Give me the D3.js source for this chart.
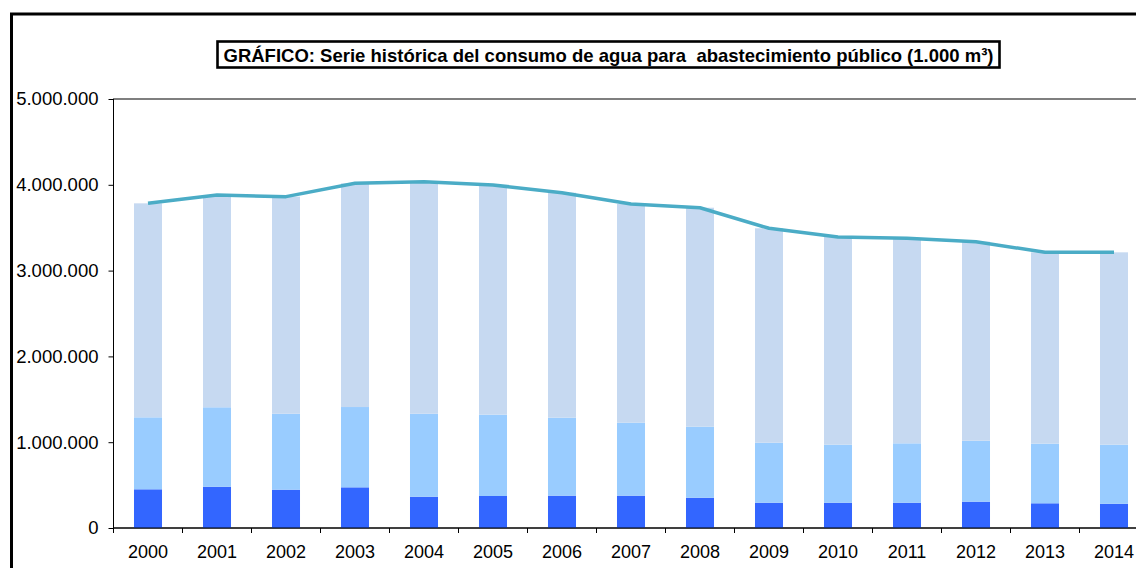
<!DOCTYPE html>
<html>
<head>
<meta charset="utf-8">
<script src="https://cdn.jsdelivr.net/npm/d3@7"></script>
<style>
  html, body { margin: 0; padding: 0; background: #fff; }
  svg { display: block; }
  text { font-family: "Liberation Sans", Arial, sans-serif; }
</style>
</head>
<body>
<svg id="chart" width="1136" height="568"></svg>
<script>
// ---- Data (1.000 m3) ----
const years = ["2000","2001","2002","2003","2004","2005","2006","2007","2008","2009","2010","2011","2012","2013","2014"];
const seriesDark  = [451000, 481000, 447000, 474000, 365000, 373000, 377000, 377000, 353000, 295000, 295000, 295000, 307000, 288000, 283000];
const seriesMid   = [839000, 926000, 885000, 936000, 967000, 948000, 909000, 850000, 828000, 699000, 676000, 692000, 710000, 695000, 688000];
const seriesLight = [2494000, 2474000, 2530000, 2607000, 2704000, 2677000, 2622000, 2549000, 2552000, 2499000, 2421000, 2389000, 2320000, 2230000, 2242000];
const totalLine   = [3784000, 3881000, 3862000, 4017000, 4036000, 3998000, 3908000, 3776000, 3733000, 3493000, 3392000, 3376000, 3337000, 3213000, 3213000];
const yTicks = [0, 1000000, 2000000, 3000000, 4000000, 5000000];
const titleText = "GRÁFICO: Serie histórica del consumo de agua para  abastecimiento público (1.000 m³)";

const svg = d3.select("#chart");

// outer frame
svg.append("rect")
  .attr("x", 11.5).attr("y", 14)
  .attr("width", 1200).attr("height", 700)
  .attr("fill", "none").attr("stroke", "#000").attr("stroke-width", 3);

// plot area
const plot = { left: 113.5, top: 99, bottom: 528, right: 1148.5 };

const x = d3.scaleBand().domain(years)
  .range([plot.left, plot.right])
  .paddingInner(0.594).paddingOuter(0.297);

const y = d3.scaleLinear().domain([0, 5000000]).range([plot.bottom, plot.top]);

const locale = d3.formatLocale({ decimal: ",", thousands: ".", grouping: [3], currency: ["", "€"] });
const fmt = locale.format(",d");

// plot border
svg.append("rect")
  .attr("x", plot.left).attr("y", plot.top)
  .attr("width", plot.right - plot.left).attr("height", plot.bottom - plot.top)
  .attr("fill", "none").attr("stroke", "#000").attr("stroke-width", 1);

// stacked bars
const stackData = years.map((yr, i) => ({ year: yr, dark: seriesDark[i], mid: seriesMid[i], light: seriesLight[i] }));
const stack = d3.stack().keys(["dark", "mid", "light"]);
const layers = stack(stackData);
const colors = { dark: "#3366FF", mid: "#99CCFF", light: "#C6D9F1" };

svg.append("g").selectAll("g")
  .data(layers)
  .join("g")
  .attr("fill", d => colors[d.key])
  .selectAll("rect")
  .data(d => d)
  .join("rect")
  .attr("x", d => x(d.data.year))
  .attr("width", x.bandwidth())
  .attr("y", d => y(d[1]))
  .attr("height", d => y(d[0]) - y(d[1]));

// line
const line = d3.line()
  .x((d, i) => x(years[i]) + x.bandwidth() / 2)
  .y(d => y(d));

svg.append("path")
  .datum(totalLine)
  .attr("d", line)
  .attr("fill", "none")
  .attr("stroke", "#4BACC6")
  .attr("stroke-width", 3.5)
  .attr("stroke-linejoin", "round");

// y axis
const yAxis = d3.axisLeft(y).tickValues(yTicks).tickFormat(fmt).tickSize(5).tickPadding(10);
const gy = svg.append("g").attr("transform", `translate(${plot.left},0)`).call(yAxis);
gy.select(".domain").attr("stroke", "#000").attr("d", `M-0,${plot.top}V${plot.bottom}`);
gy.selectAll(".tick line").attr("stroke", "#000");
gy.selectAll(".tick text")
  .attr("font-family", "Liberation Sans, Arial, sans-serif")
  .attr("font-size", 18.5).attr("fill", "#000");

// x axis
const xAxis = d3.axisBottom(x).tickSize(0).tickPadding(17);
const gx = svg.append("g").attr("transform", `translate(0,${plot.bottom})`).call(xAxis);
gx.select(".domain").attr("stroke", "#000").attr("d", `M${plot.left},0H${plot.right}`);
gx.selectAll(".tick text")
  .attr("font-family", "Liberation Sans, Arial, sans-serif")
  .attr("font-size", 18).attr("fill", "#000");

// category boundary ticks
const bounds = years.map(yr => x(yr) - x.step() * x.paddingInner() / 2).concat([plot.right]);
gx.append("g").selectAll("line")
  .data(bounds)
  .join("line")
  .attr("x1", d => d).attr("x2", d => d)
  .attr("y1", 0).attr("y2", 5)
  .attr("stroke", "#000");

// title box
svg.append("rect")
  .attr("x", 217.5).attr("y", 41.5)
  .attr("width", 782).attr("height", 26)
  .attr("fill", "#fff").attr("stroke", "#000").attr("stroke-width", 2.6);

svg.append("text")
  .attr("x", 608.5).attr("y", 61.5)
  .attr("text-anchor", "middle")
  .attr("font-weight", "bold")
  .attr("font-size", 18.5)
  .attr("fill", "#000")
  .style("white-space", "pre")
  .attr("xml:space", "preserve")
  .text(titleText);
</script>
</body>
</html>
